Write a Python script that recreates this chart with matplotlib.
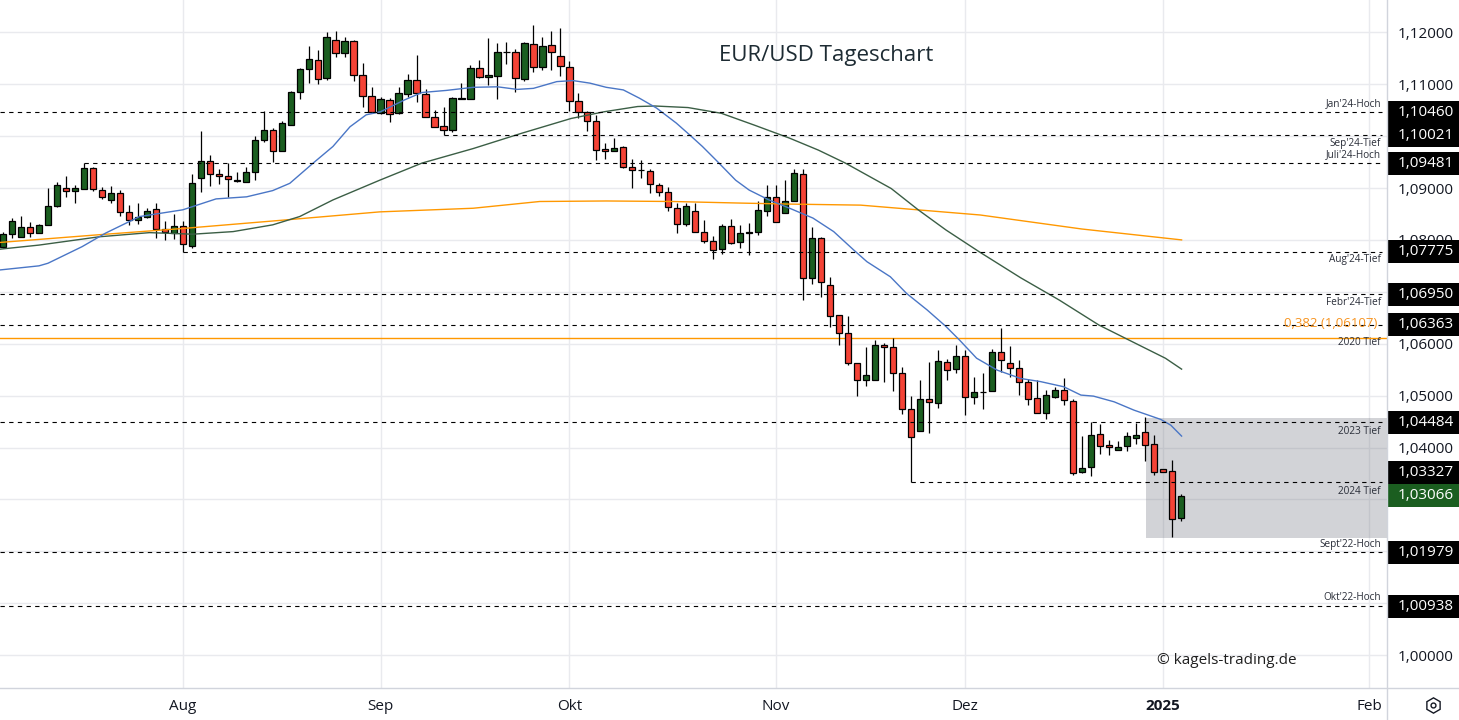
import matplotlib
matplotlib.use("Agg")
import matplotlib.pyplot as plt
import matplotlib.transforms as mtransforms
from matplotlib.patches import Rectangle
from matplotlib.lines import Line2D
from matplotlib.ticker import FuncFormatter
import numpy as np
import pandas as pd

plt.rcParams['font.family'] = ['Open Sans', 'DejaVu Sans']

# ---------------- data ----------------
dates = pd.bdate_range('2024-07-04', '2025-01-03')

opens = [1.07857, 1.08107, 1.08062, 1.08242, 1.08127, 1.08281, 1.08647, 1.08994, 1.08949, 1.08974,
         1.09379, 1.08955, 1.08775, 1.08897, 1.08531, 1.08377, 1.08435, 1.08589, 1.08217, 1.08127,
         1.08261, 1.07889, 1.09186, 1.09514, 1.09270, 1.09225, 1.09141, 1.09109, 1.09302, 1.09918,
         1.10111, 1.09707, 1.10208, 1.10843, 1.11287, 1.11460, 1.11113, 1.11845, 1.11595, 1.11826,
         1.11171, 1.10766, 1.10439, 1.10689, 1.10439, 1.10805, 1.11074, 1.10805, 1.10362, 1.10188,
         1.10111, 1.10721, 1.10708, 1.11306, 1.11132, 1.11152, 1.11614, 1.11614, 1.11094, 1.11768,
         1.11325, 1.11749, 1.11537, 1.11325, 1.10670, 1.10458, 1.10285, 1.09745, 1.09707, 1.09784,
         1.09398, 1.09340, 1.09321, 1.09051, 1.08917, 1.08608, 1.08300, 1.08551, 1.08146, 1.07972,
         1.07818, 1.08261, 1.07953, 1.08133, 1.08146, 1.08551, 1.08820, 1.08512, 1.08743, 1.09263,
         1.07260, 1.08030, 1.07125, 1.06547, 1.06200, 1.05622, 1.05294, 1.05294, 1.05969, 1.05930,
         1.05429, 1.04735, 1.04312, 1.04928, 1.04851, 1.05641, 1.05506, 1.05757, 1.04967, 1.05063,
         1.05082, 1.05834, 1.05622, 1.05525, 1.05256, 1.04947, 1.04658, 1.04967, 1.05102, 1.04890,
         1.03522, 1.03618, 1.04254, 1.04042, 1.03946, 1.04023, 1.04177, 1.04292, 1.04061, 1.03579,
         1.03541, 1.02635]
highs = [1.08146, 1.08416, 1.08461, 1.08339, 1.08300, 1.08994, 1.09116, 1.09231, 1.09051, 1.09481,
         1.09398, 1.09013, 1.09039, 1.08955, 1.08673, 1.08705, 1.08608, 1.08705, 1.08358, 1.08493,
         1.08358, 1.09270, 1.10092, 1.09636, 1.09366, 1.09475, 1.09302, 1.09398, 1.09996, 1.10484,
         1.10156, 1.10285, 1.10869, 1.11306, 1.11736, 1.11653, 1.12012, 1.12019, 1.11903, 1.11845,
         1.11402, 1.10940, 1.10760, 1.10728, 1.10940, 1.11197, 1.11563, 1.10901, 1.10497, 1.10554,
         1.10747, 1.11030, 1.11364, 1.11460, 1.11890, 1.11794, 1.11807, 1.11672, 1.11807, 1.12147,
         1.11903, 1.12019, 1.12076, 1.11441, 1.10824, 1.10477, 1.10400, 1.09861, 1.09957, 1.09803,
         1.09552, 1.09533, 1.09360, 1.09090, 1.09013, 1.08705, 1.08705, 1.08705, 1.08377, 1.08069,
         1.08300, 1.08396, 1.08281, 1.08319, 1.08743, 1.09051, 1.09050, 1.09150, 1.09360, 1.09360,
         1.08242, 1.08049, 1.07279, 1.06547, 1.06527, 1.05622, 1.05930, 1.06065, 1.06007, 1.06104,
         1.05545, 1.04986, 1.05294, 1.05641, 1.05872, 1.05699, 1.05969, 1.05872, 1.05352, 1.05429,
         1.05892, 1.06296, 1.05949, 1.05680, 1.05314, 1.05294, 1.05102, 1.05159, 1.05333, 1.04928,
         1.04215, 1.04485, 1.04446, 1.04138, 1.04119, 1.04292, 1.04466, 1.04581, 1.04235, 1.03579,
         1.03753, 1.03098]
lows = [1.07838, 1.08030, 1.08049, 1.08062, 1.08127, 1.08281, 1.08628, 1.08833, 1.08718, 1.08974,
        1.08949, 1.08782, 1.08718, 1.08454, 1.08281, 1.08300, 1.08416, 1.08043, 1.07992, 1.08024,
        1.07775, 1.07838, 1.08929, 1.09045, 1.09071, 1.08833, 1.09122, 1.09109, 1.09148, 1.09880,
        1.09507, 1.09707, 1.10208, 1.10721, 1.11017, 1.10998, 1.11074, 1.11518, 1.11518, 1.11055,
        1.10567, 1.10458, 1.10419, 1.10278, 1.10419, 1.10760, 1.10664, 1.10362, 1.10169, 1.10021,
        1.10073, 1.10708, 1.10708, 1.11113, 1.10978, 1.10708, 1.11383, 1.10843, 1.11055, 1.11229,
        1.11267, 1.11267, 1.11152, 1.10477, 1.10342, 1.10092, 1.09533, 1.09552, 1.09707, 1.09379,
        1.09006, 1.09186, 1.08897, 1.08840, 1.08551, 1.08127, 1.08261, 1.08146, 1.07934, 1.07626,
        1.07722, 1.07915, 1.07838, 1.07703, 1.08088, 1.08454, 1.08339, 1.08512, 1.08743, 1.06836,
        1.07144, 1.06893, 1.06315, 1.05969, 1.05583, 1.04986, 1.05179, 1.05294, 1.05256, 1.05082,
        1.04639, 1.03327, 1.04312, 1.04273, 1.04755, 1.05294, 1.05429, 1.04620, 1.04832, 1.04735,
        1.05082, 1.05448, 1.05352, 1.05005, 1.04813, 1.04658, 1.04543, 1.04947, 1.04813, 1.03464,
        1.03502, 1.03445, 1.03868, 1.03849, 1.03946, 1.03926, 1.04061, 1.03734, 1.03464, 1.03522,
        1.02269, 1.02577]
closes = [1.08107, 1.08358, 1.08242, 1.08133, 1.08281, 1.08647, 1.09051, 1.08936, 1.08994, 1.09379,
          1.08974, 1.08820, 1.08897, 1.08531, 1.08377, 1.08435, 1.08551, 1.08217, 1.08146, 1.08261,
          1.07915, 1.09090, 1.09514, 1.09263, 1.09225, 1.09167, 1.09148, 1.09302, 1.09918, 1.10111,
          1.09707, 1.10246, 1.10843, 1.11287, 1.11479, 1.11094, 1.11903, 1.11595, 1.11826, 1.11171,
          1.10766, 1.10458, 1.10708, 1.10419, 1.10824, 1.11074, 1.10824, 1.10362, 1.10169, 1.10111,
          1.10728, 1.10734, 1.11306, 1.11132, 1.11171, 1.11614, 1.11614, 1.11113, 1.11787, 1.11325,
          1.11730, 1.11614, 1.11344, 1.10670, 1.10458, 1.10285, 1.09726, 1.09707, 1.09764, 1.09398,
          1.09340, 1.09340, 1.09071, 1.08917, 1.08628, 1.08300, 1.08647, 1.08146, 1.07972, 1.07799,
          1.08261, 1.07934, 1.08127, 1.08146, 1.08570, 1.08820, 1.08339, 1.08743, 1.09283, 1.07260,
          1.08030, 1.07182, 1.06527, 1.06200, 1.05622, 1.05294, 1.05391, 1.05969, 1.05930, 1.05429,
          1.04735, 1.04196, 1.04928, 1.04870, 1.05660, 1.05487, 1.05757, 1.04967, 1.05063, 1.05070,
          1.05834, 1.05680, 1.05525, 1.05256, 1.04928, 1.04658, 1.05005, 1.05102, 1.04909, 1.03502,
          1.03599, 1.04235, 1.04023, 1.04003, 1.04003, 1.04215, 1.04235, 1.04042, 1.03522, 1.03522,
          1.02616, 1.03066]

# moving averages, sampled at bar numbers
ma_fast_idx = [-0.4, 4, 5, 8.8, 11.4, 15.2, 20, 23.7, 27.1, 30, 31.9, 34.5, 36.7, 38.6, 40.4, 42,
               44.7, 46.6, 49.3, 52.3, 55, 57.2, 59, 61.6, 63.4, 65.3, 67.1, 69, 70.8, 72.7, 74.9,
               76.4, 77.8, 79.3, 81.5, 83, 85.2, 87.5, 90.1, 92.4, 94.6, 96.1, 98.7, 100.5, 102.8,
               104.9, 106.4, 108.3, 110.6, 113.2, 115.4, 118, 119.9, 121.3, 123.6, 125.8, 128.8,
               129.9, 131.1]
ma_fast = [1.0742, 1.0750, 1.0755, 1.0787, 1.0813, 1.0845, 1.0858, 1.0879, 1.0883, 1.0895, 1.0909,
           1.0948, 1.0980, 1.1018, 1.1041, 1.1047, 1.1070, 1.1084, 1.1088, 1.1094, 1.1095, 1.1090,
           1.1092, 1.1105, 1.1107, 1.1102, 1.1094, 1.1089, 1.1073, 1.1054, 1.1025, 1.1002, 1.0980,
           1.0954, 1.0915, 1.0896, 1.0877, 1.0861, 1.0842, 1.0816, 1.0781, 1.0758, 1.0729, 1.0697,
           1.0665, 1.0633, 1.0607, 1.0572, 1.0549, 1.0533, 1.0527, 1.0517, 1.0501, 1.0499, 1.0488,
           1.0472, 1.0454, 1.0443, 1.0422]
ma_mid_idx = [-0.4, 4, 10.7, 16.3, 21.1, 25.6, 30, 33, 36.7, 41.9, 46.6, 52.3, 57.6, 63.2, 66.9,
              70.6, 72.5, 76.2, 79.9, 83.6, 87.5, 90.7, 93.7, 98.8, 101.8, 104.9, 108.6, 113.2,
              117.5, 121.9, 124.9, 129.3, 131.1]
ma_mid = [1.0782, 1.0790, 1.0806, 1.0814, 1.0811, 1.0816, 1.0829, 1.0845, 1.0877, 1.0915, 1.0948,
          1.0976, 1.1005, 1.1034, 1.1047, 1.1057, 1.1058, 1.1055, 1.1044, 1.1021, 1.0996, 1.0973,
          1.0948, 1.0899, 1.0858, 1.0819, 1.0777, 1.0727, 1.0684, 1.0636, 1.0610, 1.0572, 1.0551]
ma_slow_idx = [-0.4, 10.7, 20, 31.1, 41.9, 52.3, 59.7, 67.1, 74.5, 81.9, 87.5, 95.4, 108.7, 120, 131.1]
ma_slow = [1.0795, 1.0810, 1.0822, 1.0838, 1.0854, 1.0861, 1.0874, 1.0875, 1.0874, 1.0871, 1.0869,
           1.0867, 1.0848, 1.0821, 1.0800]

level_values = [1.10460, 1.10021, 1.09481, 1.07775, 1.06950, 1.06363, 1.04484, 1.03327, 1.01979, 1.00938]
level_start = [None, 49, 9, 20, None, None, None, 101, None, None]
level_names = ["Jan'24-Hoch", "Sep'24-Tief", "Juli'24-Hoch", "Aug'24-Tief", "Febr'24-Tief",
               "2020 Tief", "2023 Tief", "2024 Tief", "Sept'22-Hoch", "Okt'22-Hoch"]
fib_value = 1.06107
fib_label = "0,382 (1,06107)"
zone_low, zone_high, zone_start = 1.0226, 1.0457, 127.1

month_names = ['Aug', 'Sep', 'Okt', 'Nov', 'Dez', '2025', 'Feb']
# scale ticks hidden behind the price boxes
hidden_ticks = [1.10, 1.07, 1.03, 1.02, 1.01]

# ---------------- figure ----------------
fig = plt.figure(figsize=(14.59, 7.2), dpi=100)
ax = fig.add_axes([0, 32 / 720, 1387 / 1459, 688 / 720])

x = np.arange(len(dates))
o = np.array(opens); h = np.array(highs); l = np.array(lows); c = np.array(closes)
up = c >= o
colors = np.where(up, '#1b5e20', '#f44336')

x0, x1 = -3 / 8.99, 1384 / 8.99
ax.set_xlim(x0, x1)
ax.set_ylim(1.126224 - 688 / 5190, 1.126224)

# grey zone
ax.add_patch(Rectangle((zone_start, zone_low), x1 - zone_start, zone_high - zone_low,
                       facecolor='#787b86', alpha=0.33, edgecolor='none', zorder=1.5))

# fib line
ax.axhline(fib_value, color='#ff9800', lw=1.0, zorder=2)

# candles
ax.vlines(x, l, h, color='black', lw=0.9, zorder=4)
ax.bar(x, np.abs(c - o), bottom=np.minimum(o, c), width=0.7, color=colors,
       edgecolor='black', linewidth=0.9, zorder=5)

# moving averages
ax.plot(ma_slow_idx, ma_slow, color='#ff9800', lw=1.0, zorder=6)
ax.plot(ma_mid_idx, ma_mid, color='#3b5e45', lw=1.0, zorder=6)
ax.plot(ma_fast_idx, ma_fast, color='#4a76c6', lw=1.0, zorder=6)

# horizontal levels
x_end = 1379 / 8.99
x_lab = 1378 / 8.99
offsets = [9, -8, 8, -8, -8, -18, -9, -9, 8, 9]
for val, st, name, off in zip(level_values, level_start, level_names, offsets):
    xs = x0 if st is None else st
    ax.hlines(val, xs, x_end, colors='black', linestyles=(0, (3.9, 3.9)), lw=0.8, zorder=7)
    ax.annotate(name, xy=(x_lab, val), xytext=(0, off), textcoords='offset pixels',
                ha='right', va='center', fontsize=7.2, color='#2a2e39', zorder=8)
ax.annotate(fib_label, xy=(1374 / 8.99, fib_value), xytext=(0, 15), textcoords='offset pixels',
            ha='right', va='center', fontsize=9.5, color='#f7931e', zorder=8)


# axes styling
def price_fmt(v, p):
    if any(abs(v - t) < 1e-6 for t in hidden_ticks):
        return ''
    return f"{v:.5f}".replace('.', ',')


ax.yaxis.tick_right()
ax.set_yticks(np.arange(1.00, 1.1201, 0.01))
ax.yaxis.set_major_formatter(FuncFormatter(price_fmt))
ax.tick_params(axis='y', length=0, pad=8, labelsize=11, labelcolor='#131722')

cal = pd.bdate_range('2024-07-04', '2025-02-28')
month_pos = [i for i in range(1, len(cal)) if cal[i].month != cal[i - 1].month]
ax.set_xticks(month_pos)
ax.set_xticklabels(month_names)
ax.tick_params(axis='x', length=0, pad=8, labelsize=11, labelcolor='#131722')
for t in ax.get_xticklabels():
    if t.get_text() == '2025':
        t.set_fontweight('bold')

ax.grid(True, color='#e9eaee', lw=1.0)
ax.set_axisbelow(True)
for s in ['left', 'top', 'right', 'bottom']:
    ax.spines[s].set_visible(False)

# price boxes on the right scale (the 2024 low box is pushed up above the last price box)
trans = mtransforms.blended_transform_factory(ax.transAxes, ax.transData)
bh = 23 / 5190
box_vals = level_values + [closes[-1]]
box_cols = ['black'] * len(level_values) + ['#1b5e20']
box_shift = [0] * len(box_vals)
box_shift[7] = 10 / 5190
for val, col, sh in zip(box_vals, box_cols, box_shift):
    yc = val + sh
    ax.add_patch(Rectangle((1388 / 1387, yc - bh / 2), 71 / 1387, bh, transform=trans,
                           facecolor=col, edgecolor='none', clip_on=False, zorder=10))
    ax.text(1398 / 1387, yc, f"{val:.5f}".replace('.', ','), transform=trans, color='white',
            fontsize=11, va='center', ha='left', clip_on=False, zorder=11)

# frame lines
fig.add_artist(Line2D([1387 / 1459, 1387 / 1459], [0, 1], color='#d1d4dc', lw=1,
                      transform=fig.transFigure))
fig.add_artist(Line2D([0, 1], [32 / 720, 32 / 720], color='#d1d4dc', lw=1,
                      transform=fig.transFigure))
fig.add_artist(Line2D([1433 / 1459], [15 / 720], marker='h', markersize=11, mfc='none',
                      mec='#131722', mew=1.0, transform=fig.transFigure))
fig.add_artist(Line2D([1433 / 1459], [15 / 720], marker='o', markersize=3.5, mfc='none',
                      mec='#131722', mew=1.0, transform=fig.transFigure))

fig.text(826 / 1459, 1 - 55 / 720, 'EUR/USD Tageschart', ha='center', va='center',
         fontsize=16, color='#1d2b33')
fig.text(1227 / 1459, 1 - 660 / 720, '© kagels-trading.de', ha='center', va='center',
         fontsize=11, color='#1f1f1f')

fig.savefig('out.png', dpi=100)
